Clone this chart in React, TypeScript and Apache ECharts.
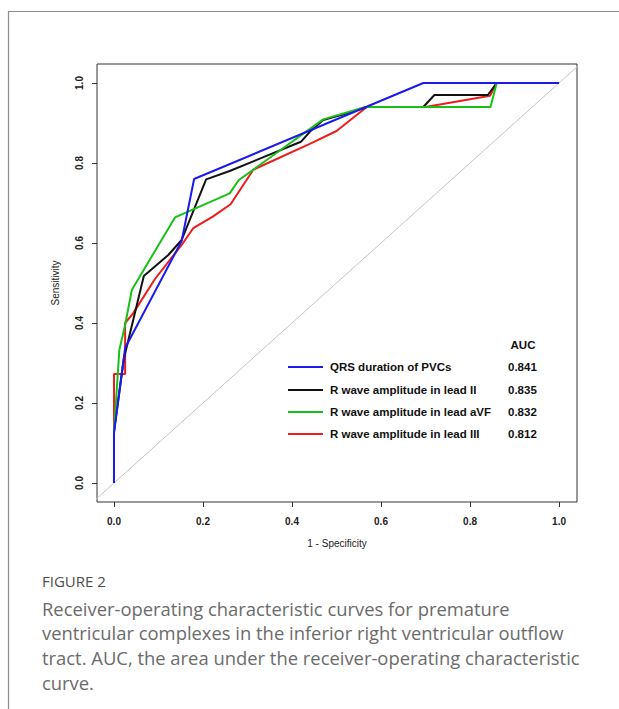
import React, { useEffect, useRef } from "react";
import * as echarts from "echarts";

// Tick values shown on both axes
const xTicks = [0, 0.2, 0.4, 0.6, 0.8, 1.0];
const yTicks = [0, 0.2, 0.4, 0.6, 0.8, 1.0];

// ROC curves: [1 - specificity, sensitivity]
const qrsDuration = [
  [0, 0], [0, 0.125], [0.025, 0.3375], [0.152, 0.605], [0.18, 0.76], [0.695, 1], [1, 1],
];
const rWaveII = [
  [0, 0], [0, 0.13], [0.022, 0.31], [0.067, 0.5175], [0.122, 0.57], [0.152, 0.6075],
  [0.207, 0.759], [0.26, 0.78], [0.42, 0.853], [0.44, 0.878], [0.47, 0.9075], [0.53, 0.926],
  [0.568, 0.94], [0.695, 0.94], [0.72, 0.97], [0.84, 0.97], [0.86, 1], [1, 1],
];
const rWaveAVF = [
  [0, 0], [0, 0.128], [0.012, 0.3325], [0.025, 0.395], [0.04, 0.4825], [0.137, 0.664],
  [0.26, 0.724], [0.28, 0.757], [0.47, 0.909], [0.565, 0.94], [0.846, 0.94], [0.86, 1], [1, 1],
];
const rWaveIII = [
  [0, 0], [0, 0.2725], [0.025, 0.2725], [0.025, 0.4], [0.043, 0.424], [0.092, 0.51],
  [0.152, 0.595], [0.178, 0.637], [0.222, 0.666], [0.262, 0.697], [0.313, 0.783],
  [0.336, 0.795], [0.44, 0.848], [0.5, 0.88], [0.568, 0.94], [0.7, 0.94], [0.845, 0.968],
  [0.86, 1], [1, 1],
];
const referenceLine = [[-0.05, -0.05], [1.1, 1.1]];

const seriesNames = [
  "QRS duration of PVCs",
  "R wave amplitude in lead II",
  "R wave amplitude in lead aVF",
  "R wave amplitude in lead III",
];
const aucValues = ["0.841", "0.835", "0.832", "0.812"];
const seriesColors = ["#1a1aee", "#111111", "#18c018", "#ee1c1c"];
const seriesData = [qrsDuration, rWaveII, rWaveAVF, rWaveIII];

const captionTitle = "FIGURE 2";
const captionLines = [
  "Receiver-operating characteristic curves for premature",
  "ventricular complexes in the inferior right ventricular outflow",
  "tract. AUC, the area under the receiver-operating characteristic",
  "curve.",
];

const AXIS_FONT = "'Liberation Sans', Arial, sans-serif";
const CAPTION_FONT = "'Open Sans', 'Noto Sans', sans-serif";

export default function App() {
  const ref = useRef<HTMLDivElement>(null);

  useEffect(() => {
    if (!ref.current) return;
    const chart = echarts.init(ref.current, null, { renderer: "svg" });

    const drawOrder = [3, 1, 2, 0];
    const curveSeries = drawOrder.map((i) => ({
      type: "line",
      name: seriesNames[i],
      data: seriesData[i],
      showSymbol: false,
      symbol: "none",
      lineStyle: { color: seriesColors[i], width: 2 },
      itemStyle: { color: seriesColors[i] },
      z: 3,
    }));

    const legendElements: any[] = [];
    const rowY = [367, 390, 412, 434];
    seriesNames.forEach((name, i) => {
      legendElements.push({
        type: "line",
        shape: { x1: 288, y1: rowY[i], x2: 323, y2: rowY[i] },
        style: { stroke: seriesColors[i], lineWidth: 2 },
      });
      legendElements.push({
        type: "text",
        x: 330,
        y: rowY[i],
        style: {
          text: name,
          font: `bold 11.5px ${AXIS_FONT}`,
          fill: "#111",
          verticalAlign: "middle",
          align: "left",
        },
      });
      legendElements.push({
        type: "text",
        x: 508,
        y: rowY[i],
        style: {
          text: aucValues[i],
          font: `bold 11.5px ${AXIS_FONT}`,
          fill: "#111",
          verticalAlign: "middle",
          align: "left",
        },
      });
    });
    legendElements.push({
      type: "text",
      x: 523,
      y: 345,
      style: {
        text: "AUC",
        font: `bold 11.5px ${AXIS_FONT}`,
        fill: "#111",
        verticalAlign: "middle",
        align: "center",
      },
    });

    const captionElements: any[] = [
      {
        type: "text",
        x: 42,
        y: 581,
        style: {
          text: captionTitle,
          font: `500 15px ${CAPTION_FONT}`,
          fill: "#4d4d4d",
          verticalAlign: "middle",
        },
      },
      ...captionLines.map((line, i) => ({
        type: "text",
        x: 42,
        y: 608 + i * 24.7,
        style: {
          text: line,
          font: `18.4px ${CAPTION_FONT}`,
          fill: "#6b6b6b",
          verticalAlign: "middle",
        },
      })),
    ];

    const option: any = {
      animation: false,
      backgroundColor: "#ffffff",
      grid: {
        left: 97,
        top: 64,
        width: 480,
        height: 438,
        show: true,
        borderColor: "#333",
        borderWidth: 1,
        containLabel: false,
      },
      xAxis: {
        type: "value",
        min: -0.0382,
        max: 1.0404,
        name: "1 - Specificity",
        nameLocation: "middle",
        nameGap: 36,
        nameTextStyle: { fontFamily: AXIS_FONT, fontSize: 10, color: "#222" },
        axisLine: { show: false, onZero: false },
        splitLine: { show: false },
        axisTick: {
          show: true,
          length: 5,
          customValues: xTicks,
          lineStyle: { color: "#333" },
        },
        axisLabel: {
          customValues: xTicks,
          margin: 14,
          fontFamily: AXIS_FONT,
          fontSize: 10,
          fontWeight: "bold",
          color: "#222",
          formatter: (v: number) => v.toFixed(1),
        },
      },
      yAxis: {
        type: "value",
        min: -0.0475,
        max: 1.0475,
        name: "Sensitivity",
        nameLocation: "middle",
        nameRotate: 90,
        nameGap: 37,
        nameTextStyle: { fontFamily: AXIS_FONT, fontSize: 10, color: "#222" },
        axisLine: { show: false, onZero: false },
        splitLine: { show: false },
        axisTick: {
          show: true,
          length: 5,
          customValues: yTicks,
          lineStyle: { color: "#333" },
        },
        axisLabel: {
          customValues: yTicks,
          rotate: 90,
          margin: 13,
          fontFamily: AXIS_FONT,
          fontSize: 10,
          fontWeight: "bold",
          color: "#222",
          formatter: (v: number) => v.toFixed(1),
        },
      },
      series: [
        {
          type: "line",
          name: "reference",
          data: referenceLine,
          showSymbol: false,
          symbol: "none",
          lineStyle: { color: "#c4c4c4", width: 1 },
          clip: true,
          z: 2,
          silent: true,
        },
        ...curveSeries,
      ],
      graphic: [
        {
          type: "rect",
          shape: { x: 8.5, y: 11.5, width: 700, height: 800 },
          style: { fill: "none", stroke: "#8c8c8c", lineWidth: 1.2 },
          silent: true,
        },
        ...legendElements,
        ...captionElements,
      ],
    };

    chart.setOption(option);
    return () => chart.dispose();
  }, []);

  return (
    <div
      ref={ref}
      style={{ position: "absolute", left: 0, top: 0, width: 619, height: 709 }}
    />
  );
}
